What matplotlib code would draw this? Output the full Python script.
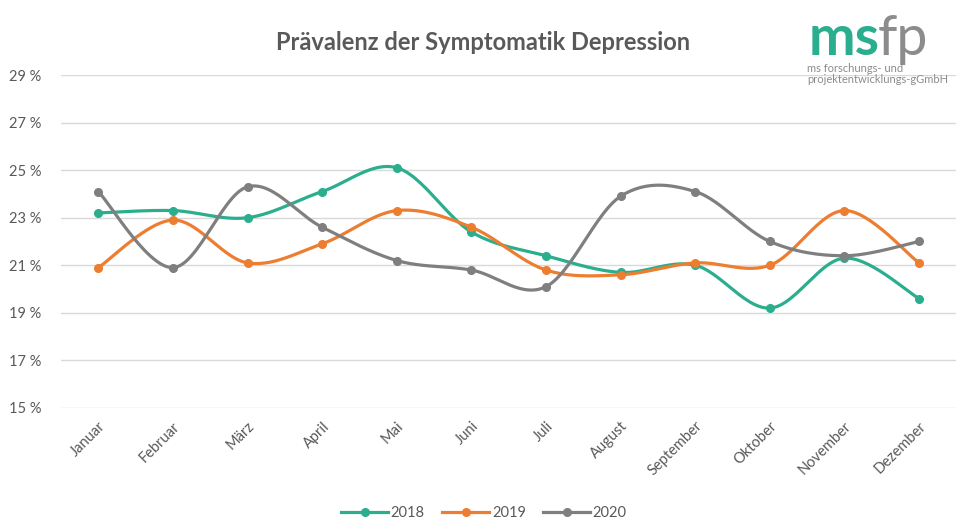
import numpy as np
import matplotlib.pyplot as plt
from matplotlib.lines import Line2D

plt.rcParams['font.family'] = ['Lato', 'DejaVu Sans']

monate = ["Januar", "Februar", "März", "April", "Mai", "Juni", "Juli",
          "August", "September", "Oktober", "November", "Dezember"]
werte_2018 = [23.2, 23.3, 23.0, 24.1, 25.1, 22.4, 21.4, 20.7, 21.0, 19.2, 21.3, 19.6]
werte_2019 = [20.9, 22.9, 21.1, 21.9, 23.3, 22.6, 20.8, 20.6, 21.1, 21.0, 23.3, 21.1]
werte_2020 = [24.1, 20.9, 24.3, 22.6, 21.2, 20.8, 20.1, 23.9, 24.1, 22.0, 21.4, 22.0]
jahre = ["2018", "2019", "2020"]
farben = ["#2BAE8E", "#ED7D31", "#7F7F7F"]
y_ticks = [15, 17, 19, 21, 23, 25, 27, 29]


def glatt(x, y, n=30):
    # Excel-artige Glaettung (Bezier mit Catmull-Rom Kontrollpunkten)
    x = np.asarray(x, float)
    y = np.asarray(y, float)
    px = np.concatenate([[x[0]], x, [x[-1]]])
    py = np.concatenate([[y[0]], y, [y[-1]]])
    xs, ys = [], []
    t = np.linspace(0, 1, n)
    for i in range(len(x) - 1):
        p0 = np.array([px[i + 1], py[i + 1]])
        p3 = np.array([px[i + 2], py[i + 2]])
        c1 = p0 + (np.array([px[i + 2], py[i + 2]]) - np.array([px[i], py[i]])) / 6
        c2 = p3 - (np.array([px[i + 3], py[i + 3]]) - np.array([px[i + 1], py[i + 1]])) / 6
        for a in t:
            b = (1 - a) ** 3 * p0 + 3 * (1 - a) ** 2 * a * c1 + 3 * (1 - a) * a ** 2 * c2 + a ** 3 * p3
            xs.append(b[0])
            ys.append(b[1])
    return xs, ys


fig = plt.figure(figsize=(9.68, 5.21), dpi=100)
ax = fig.add_axes([0.063, 0.217, 0.925, 0.639])

x = np.arange(len(monate))
for werte, farbe in zip([werte_2018, werte_2019, werte_2020], farben):
    gx, gy = glatt(x, werte)
    ax.plot(gx, gy, color=farbe, lw=2.3, solid_capstyle='round', zorder=3)
    ax.plot(x, werte, 'o', color=farbe, ms=5.5, zorder=4)

ax.set_xlim(-0.5, 11.5)
ax.set_ylim(15, 29)
ax.set_yticks(y_ticks)
ax.set_yticklabels([f"{v} %" for v in y_ticks])
ax.set_xticks(x)
ax.set_xticklabels(monate, rotation=45, ha='right', rotation_mode='anchor')
ax.grid(axis='y', color='#D9D9D9', lw=1)
ax.set_axisbelow(True)
for s in ax.spines.values():
    s.set_visible(False)
ax.tick_params(length=0, colors='#595959', labelsize=10.5)
ax.tick_params(axis='y', pad=14)
ax.tick_params(axis='x', pad=8)

fig.text(0.499, 0.918, "Prävalenz der Symptomatik Depression", ha='center', va='center',
         fontsize=17, fontweight='bold', color='#595959')

handles = [Line2D([0], [0], color=f, lw=2.3, marker='o', ms=5.5) for f in farben]
fig.legend(handles, jahre, loc='center', bbox_to_anchor=(0.5, 0.015), ncol=3, frameon=False,
           fontsize=10.5, labelcolor='#595959', handlelength=3.2, columnspacing=1.2, handletextpad=0.2)

# Logo
fig.text(0.835, 0.894, "ms", fontsize=40, fontweight='bold', color='#2BAE8E', ha='left', va='baseline')
fig.text(0.907, 0.894, "fp", fontsize=40, color='#8C8C8C', ha='left', va='baseline')
fig.text(0.834, 0.868, "ms forschungs- und", fontsize=8, color='#8C8C8C', ha='left', va='center')
fig.text(0.834, 0.848, "projektentwicklungs-gGmbH", fontsize=8, color='#8C8C8C', ha='left', va='center')

fig.savefig("out.png", dpi=100)
